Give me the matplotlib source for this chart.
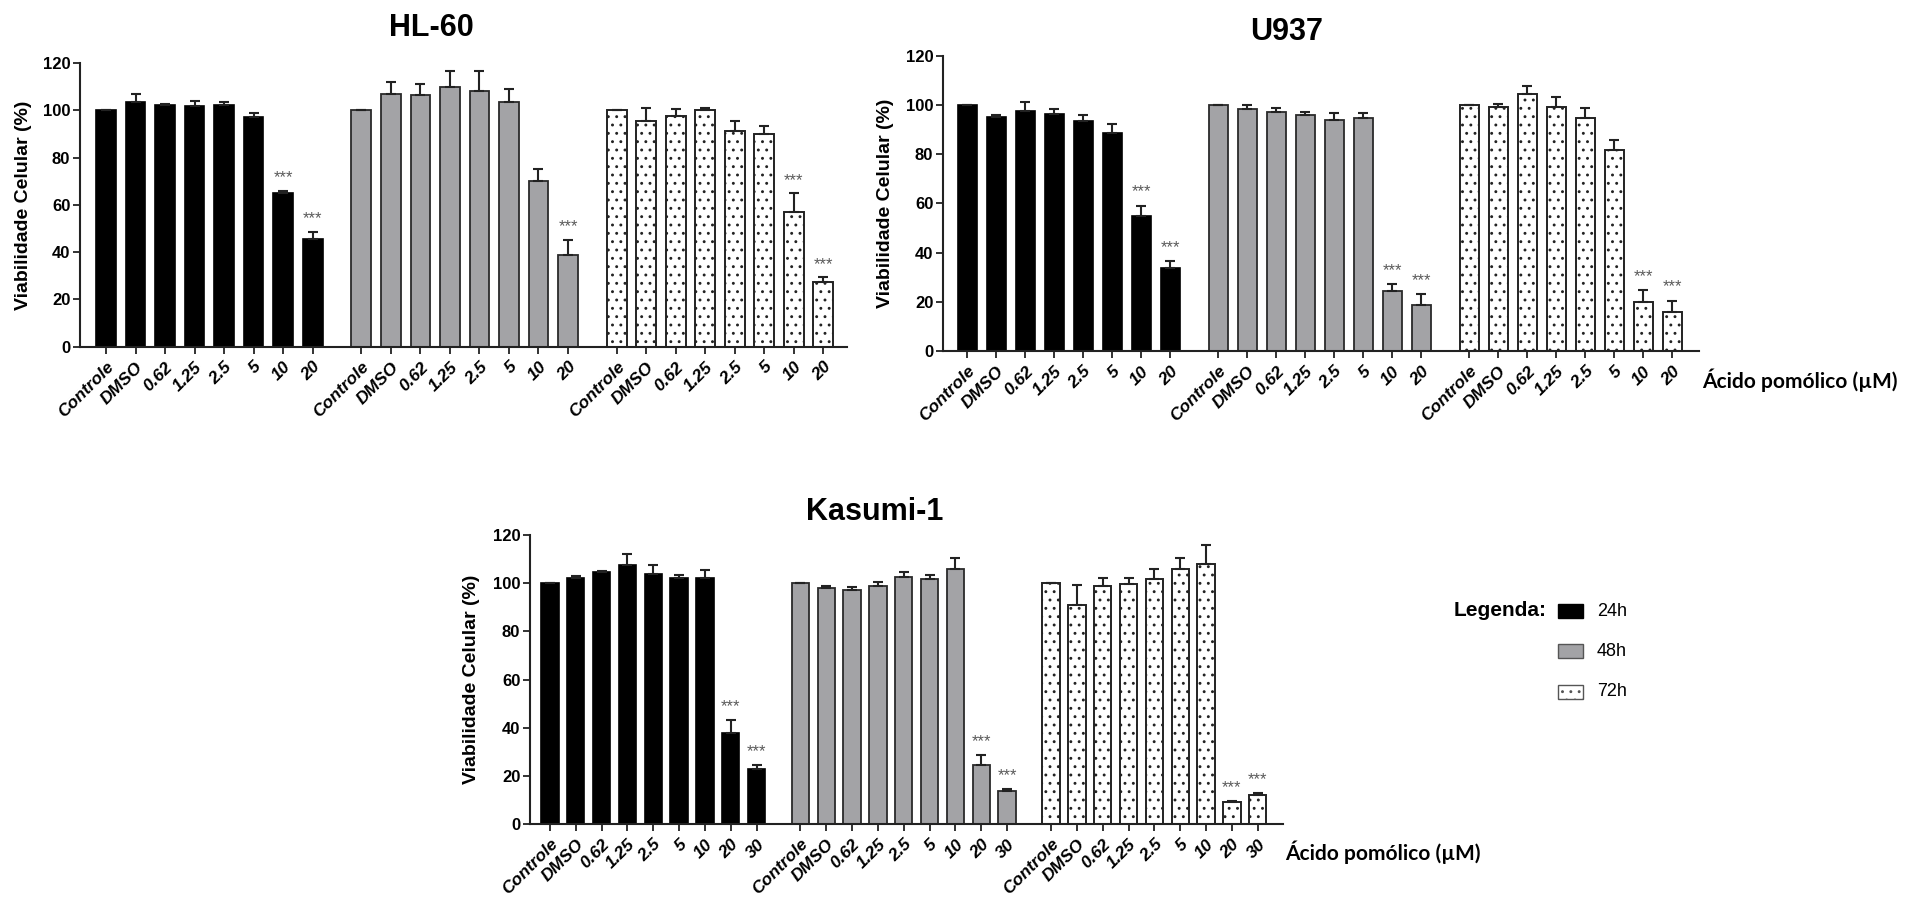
import numpy as np
import matplotlib
matplotlib.use('Agg')
import matplotlib.pyplot as plt
from matplotlib.patches import Rectangle

# ---- data ----
labels_a = ['Controle', 'DMSO', '0.62', '1.25', '2.5', '5', '10', '20']
labels_b = ['Controle', 'DMSO', '0.62', '1.25', '2.5', '5', '10', '20', '30']

hl60_24 = [100, 103.5, 102.3, 101.8, 102.1, 97.2, 65.2, 45.7]
hl60_24_err = [0, 3.5, 0.5, 2.1, 1.3, 1.7, 0.8, 3.0]
hl60_48 = [100, 107.1, 106.5, 109.9, 108.0, 103.4, 70.2, 38.8]
hl60_48_err = [0, 5.0, 4.5, 6.9, 8.8, 5.8, 4.8, 6.3]
hl60_72 = [100, 95.3, 97.7, 100.0, 91.3, 90.1, 56.8, 27.5]
hl60_72_err = [0, 5.8, 2.7, 1.0, 4.0, 3.4, 8.1, 1.8]
hl60_sig = [[6, 7], [7], [6, 7]]

u937_24 = [100, 95.3, 97.4, 96.2, 93.5, 88.5, 54.7, 33.6]
u937_24_err = [0, 0.8, 3.7, 2.3, 2.6, 3.6, 4.4, 3.1]
u937_48 = [100, 98.5, 97.2, 96.1, 93.9, 94.6, 24.5, 18.8]
u937_48_err = [0, 1.5, 1.7, 1.1, 2.8, 2.1, 2.7, 4.5]
u937_72 = [100, 99.1, 104.5, 99.1, 94.6, 81.6, 20.1, 16.0]
u937_72_err = [0, 1.3, 3.4, 4.3, 4.3, 4.3, 4.8, 4.5]
u937_sig = [[6, 7], [6, 7], [6, 7]]

kas_24 = [100, 102.1, 104.8, 107.8, 103.7, 102.1, 102.1, 37.9, 22.9]
kas_24_err = [0, 0.9, 0.4, 4.3, 3.9, 1.5, 3.3, 5.5, 1.7]
kas_48 = [100, 97.9, 97.4, 99.0, 102.5, 101.9, 106.0, 24.7, 13.7]
kas_48_err = [0, 1.0, 1.0, 1.7, 2.2, 1.5, 4.4, 3.9, 1.0]
kas_72 = [100, 91.0, 99.0, 99.6, 101.9, 106.0, 108.0, 9.1, 11.9]
kas_72_err = [0, 8.4, 3.3, 2.8, 3.9, 4.4, 8.0, 0.4, 1.1]
kas_sig = [[7, 8], [7, 8], [7, 8]]

times = ['24h', '48h', '72h']

NARROW = ['Liberation Sans Narrow', 'Liberation Sans', 'DejaVu Sans']
ARIAL = ['Liberation Sans', 'DejaVu Sans']
plt.rcParams['hatch.linewidth'] = 0.9

styles = [dict(color='black', edgecolor='black', linewidth=1.2),
          dict(color='#a3a3a6', edgecolor='#2a2a2a', linewidth=1.3),
          dict(color='white', edgecolor='#222222', linewidth=1.4, hatch='..')]


def panel(ax, labels, series, errs, sig, gap, xlim, title, title_x, title_y, ylab_x):
    n = len(labels)
    ticks, ticklabels = [], []
    for g in range(3):
        x = np.arange(n) + g * (n + gap)
        ax.bar(x, series[g], width=0.67, zorder=2, **styles[g])
        ax.errorbar(x, series[g], yerr=[np.zeros(n), errs[g]], fmt='none',
                    ecolor='#222222', elinewidth=1.5, capsize=3.8, capthick=1.5, zorder=3)
        for i in sig[g]:
            ax.text(x[i], series[g][i] + errs[g][i] + 5.5, '***', ha='center', va='center',
                    fontsize=12, color='#5a5a5a', family=ARIAL)
        ticks += list(x)
        ticklabels += labels
    ax.set_xlim(*xlim)
    ax.set_ylim(0, 120)
    ax.set_yticks(range(0, 121, 20))
    ax.set_xticks(ticks)
    ax.set_xticklabels(ticklabels, rotation=45, ha='right', rotation_mode='anchor',
                       family=NARROW, fontweight='bold', style='italic', fontsize=12.5)
    for t in ax.get_yticklabels():
        t.set_family(NARROW)
        t.set_fontweight('bold')
        t.set_fontsize(12)
    for s in ['top', 'right']:
        ax.spines[s].set_visible(False)
    for s in ['left', 'bottom']:
        ax.spines[s].set_linewidth(1.5)
        ax.spines[s].set_color('#222222')
    ax.tick_params(axis='both', direction='out', length=5, width=1.3, color='#222222', pad=2)
    ax.tick_params(axis='x', pad=4)
    fig.text(title_x / 1905, 1 - title_y / 899, title, ha='center', va='center',
             family=NARROW, fontweight='bold', fontsize=22)
    bb = ax.get_position()
    fig.text(ylab_x / 1905, bb.y0 + bb.height / 2, 'Viabilidade Celular (%)', rotation=90,
             ha='center', va='center', family=ARIAL, fontweight='bold', fontsize=14)


fig = plt.figure(figsize=(19.05, 8.99), dpi=100)

ax1 = fig.add_axes([80 / 1905, 1 - 346.7 / 899, 767 / 1905, 283.6 / 899])
panel(ax1, labels_a, [hl60_24, hl60_48, hl60_72], [hl60_24_err, hl60_48_err, hl60_72_err],
      hl60_sig, 0.65, (-0.88, 25.1), 'HL-60', 431, 28, 24)

ax2 = fig.add_axes([943 / 1905, 1 - 351 / 899, 756 / 1905, 295.2 / 899])
panel(ax2, labels_a, [u937_24, u937_48, u937_72], [u937_24_err, u937_48_err, u937_72_err],
      u937_sig, 0.66, (-0.84, 25.24), 'U937', 1287, 32, 885)

ax3 = fig.add_axes([530 / 1905, 1 - 824 / 899, 753 / 1905, 288.8 / 899])
panel(ax3, labels_b, [kas_24, kas_48, kas_72], [kas_24_err, kas_48_err, kas_72_err],
      kas_sig, 0.7, (-0.77, 28.38), 'Kasumi-1', 875, 512, 471)

fig.text(1702 / 1905, 1 - 380 / 899, 'Ácido pomólico (µM)', ha='left', va='center',
         family=['Lato', 'Liberation Sans'], fontweight='bold', fontsize=15)
fig.text(1285 / 1905, 1 - 852 / 899, 'Ácido pomólico (µM)', ha='left', va='center',
         family=['Lato', 'Liberation Sans'], fontweight='bold', fontsize=15)

# legend
fig.text(1547 / 1905, 1 - 611 / 899, 'Legenda:', ha='right', va='center',
         family=ARIAL, fontweight='bold', fontsize=15)
for k, yc in enumerate([611, 651, 692]):
    st = styles[k]
    rect = Rectangle((1558 / 1905, 1 - (yc + 7) / 899), 25 / 1905, 14 / 899,
                     transform=fig.transFigure, facecolor=st['color'],
                     edgecolor='#555555' if k else 'black', linewidth=1.0,
                     hatch='..' if k == 2 else None)
    fig.patches.append(rect)
    fig.text(1597 / 1905, 1 - yc / 899, times[k], ha='left', va='center',
             family=ARIAL, fontsize=13)

fig.savefig('out.png', dpi=100)
